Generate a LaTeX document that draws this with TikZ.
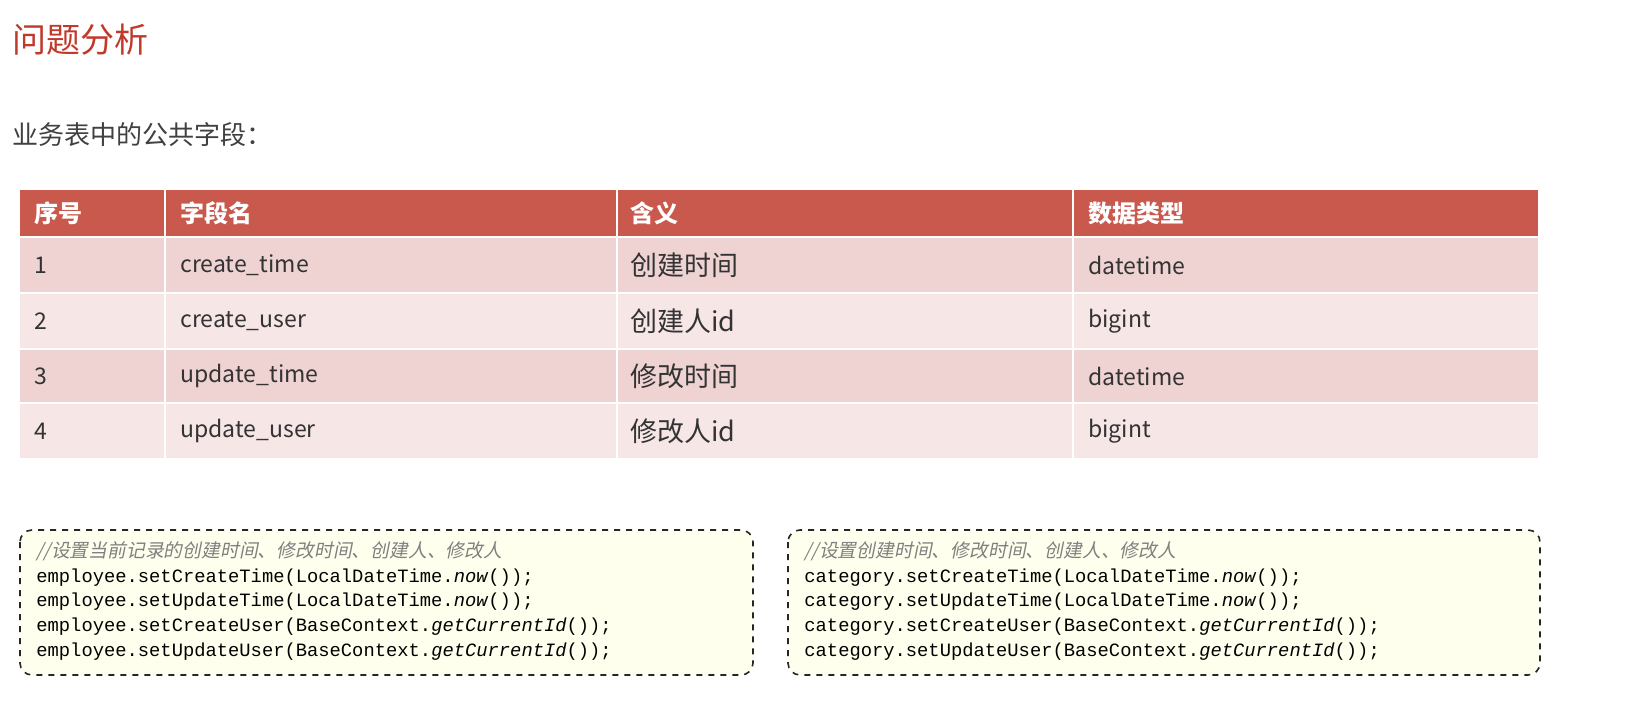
\documentclass[tikz,border=0pt]{standalone}
\usepackage{fontspec}
\setmainfont{Open Sans}
\setmonofont{Liberation Mono}
\newfontfamily\cjk{Noto Sans CJK SC}
\newfontfamily\cjkit[FakeSlant=0.2]{Noto Sans CJK SC}
\definecolor{titlered}{HTML}{C0392B}
\definecolor{headred}{HTML}{C9584D}
\definecolor{rowa}{HTML}{EFD3D3}
\definecolor{rowb}{HTML}{F6E6E6}
\definecolor{codebg}{HTML}{FFFFEE}
\tikzset{
  cell/.style={anchor=west,inner sep=0pt,font=\fontsize{11.5}{13}\selectfont\cjk,text=black!80},
  head/.style={anchor=west,inner sep=0pt,font=\fontsize{12}{14}\selectfont\cjk\bfseries,text=white},
  codebox/.style={draw=black!85,dashed,thick,rounded corners=6pt,fill=codebg},
  code/.style={anchor=north west,inner sep=0pt,align=left,font=\fontsize{9.4}{12.4}\selectfont\ttfamily}
}
\newcommand{\cmt}[1]{\textcolor{black!50}{\cjkit #1}}
\begin{document}
\begin{tikzpicture}[x=0.5pt,y=-0.5pt]
\useasboundingbox (0,0) rectangle (1626,716);
\fill[white] (0,0) rectangle (1626,716);

\node[anchor=west,inner sep=0pt,text=titlered,font=\fontsize{17}{20}\selectfont\cjk] (title) at (12,40) {问题分析};
\node[anchor=west,inner sep=0pt,text=black!75,font=\fontsize{13}{15}\selectfont\cjk] (sub) at (12,135) {业务表中的公共字段：};

% table
\fill[headred] (20,190) rectangle (1538,236);
\fill[rowa] (20,238) rectangle (1538,292);
\fill[rowb] (20,294) rectangle (1538,348);
\fill[rowa] (20,350) rectangle (1538,402);
\fill[rowb] (20,404) rectangle (1538,458);
\foreach \x in {165,617,1073}
  \draw[white,line width=1.2pt] (\x,190) -- (\x,458);

\node[head] (h1) at (34,213) {序号};
\node[head] (h2) at (180,213) {字段名};
\node[head] (h3) at (630,213) {含义};
\node[head] (h4) at (1088,213) {数据类型};

\foreach \n/\y/\f/\m/\t in {1/265/create\_time/创建时间/datetime,
                             2/321/create\_user/创建人id/bigint,
                             3/376/update\_time/修改时间/datetime,
                             4/431/update\_user/修改人id/bigint}{
  \node[cell] (n\n) at (34,\y) {\n};
  \node[cell] (f\n) at (180,\y) {\f};
  \node[cell,font=\fontsize{13.5}{15}\selectfont\cjk] (m\n) at (630,\y) {\m};
  \node[cell] (t\n) at (1088,\y) {\t};
}

% code boxes
\draw[codebox] (20,530) rectangle (753,675);
\draw[codebox] (788,530) rectangle (1540,675);
\node[code] (codea) at (36,541) {\cmt{//设置当前记录的创建时间、修改时间、创建人、修改人}\\
employee.setCreateTime(LocalDateTime.\textit{now}());\\
employee.setUpdateTime(LocalDateTime.\textit{now}());\\
employee.setCreateUser(BaseContext.\textit{getCurrentId}());\\
employee.setUpdateUser(BaseContext.\textit{getCurrentId}());};
\node[code] (codeb) at (804,541) {\cmt{//设置创建时间、修改时间、创建人、修改人}\\
category.setCreateTime(LocalDateTime.\textit{now}());\\
category.setUpdateTime(LocalDateTime.\textit{now}());\\
category.setCreateUser(BaseContext.\textit{getCurrentId}());\\
category.setUpdateUser(BaseContext.\textit{getCurrentId}());};
\end{tikzpicture}
\end{document}
